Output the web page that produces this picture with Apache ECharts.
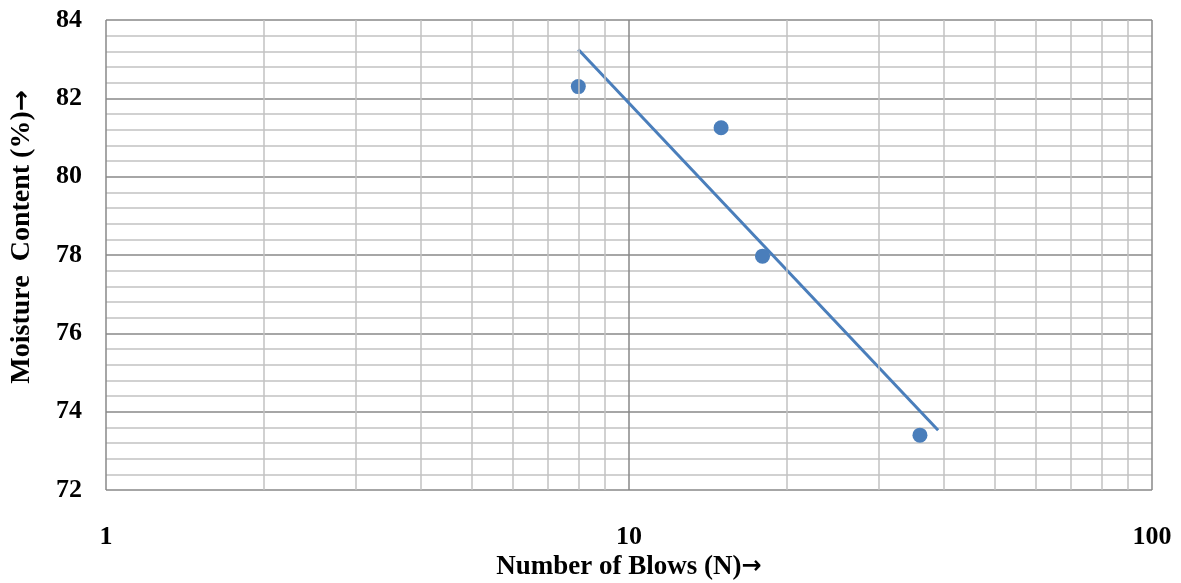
<!DOCTYPE html>
<html><head><meta charset="utf-8">
<script src="https://cdn.jsdelivr.net/npm/echarts@6/dist/echarts.min.js"></script>
<style>html,body{margin:0;padding:0;background:#fff}#c{width:1181px;height:583px}</style>
</head><body><div id="c"></div>
<script>
const blows = [8, 15, 18, 36];
const moisture = [82.3, 81.25, 77.97, 73.4];
const trendRange = [8, 39];
const xMinorLines = [2,3,4,5,6,7,8,9,20,30,40,50,60,70,80,90];
const yTicks = [72, 74, 76, 78, 80, 82, 84];
const xTitle = 'Number of Blows (N){a|\u2192}';
const yTitle = 'Moisture  Content (%){a|\u2192}';

// logarithmic trend line (least squares of y on log10 x)
const lx = blows.map(v => Math.log10(v));
const n = lx.length;
const mx = lx.reduce((a,b)=>a+b,0)/n, my = moisture.reduce((a,b)=>a+b,0)/n;
let sxy=0, sxx=0;
for (let i=0;i<n;i++){ sxy += (lx[i]-mx)*(moisture[i]-my); sxx += (lx[i]-mx)**2; }
const slope = sxy/sxx, icpt = my - slope*mx;
const trend = trendRange.map(x => [x, icpt + slope*Math.log10(x)]);

const font = '"Liberation Serif", "Times New Roman", serif';
const arrowRich = (s) => ({a: {fontFamily: '"DejaVu Sans"', fontWeight: 'bold', fontSize: s, fill: '#000', color: '#000'}});
const titleStyle = (t, s, as) => ({text: t, fontFamily: font, fontWeight: 'bold', fontSize: s, fill: '#000',
  align: 'center', verticalAlign: 'middle', rich: arrowRich(as)});
const chart = echarts.init(document.getElementById('c'));
chart.setOption({
  animation: false,
  grid: {left: 106, right: 29, top: 20, bottom: 93, containLabel: false, outerBoundsMode: 'none'},
  graphic: [
    {type: 'text', x: 629, y: 567, style: titleStyle(xTitle, 27, 24), silent: true},
    {type: 'text', x: 22, y: 237, rotation: Math.PI/2, style: titleStyle(yTitle, 28, 25), silent: true}
  ],
  xAxis: {
    type: 'log', logBase: 10, min: 1, max: 100,
    axisLine: {show: false}, axisTick: {show: false},
    axisLabel: {fontFamily: font, fontWeight: 'bold', fontSize: 26, color: '#000', margin: 34},
    splitLine: {show: true, lineStyle: {color: '#888888', width: 1.5}}
  },
  yAxis: {
    type: 'value', min: yTicks[0], max: yTicks[yTicks.length-1], interval: 2,
    axisLine: {show: false}, axisTick: {show: false},
    axisLabel: {fontFamily: font, fontWeight: 'bold', fontSize: 26, color: '#000', margin: 24},
    splitLine: {show: true, lineStyle: {color: '#888888', width: 1.5}},
    minorTick: {show: false, splitNumber: 5},
    minorSplitLine: {show: true, lineStyle: {color: '#c2c2c2', width: 1.5}}
  },
  series: [
    {
      type: 'line', data: [], silent: true,
      markLine: {
        symbol: 'none', silent: true, label: {show: false},
        lineStyle: {color: '#c2c2c2', width: 1.5, type: 'solid'},
        data: xMinorLines.map(v => ({xAxis: v}))
      }
    },
    {
      type: 'line', data: trend, showSymbol: false, symbol: 'none',
      lineStyle: {color: '#4a7ebb', width: 3}, z: 3
    },
    {
      type: 'scatter', data: blows.map((b,i)=>[b, moisture[i]]),
      symbolSize: 15, itemStyle: {color: '#4a7ebb', opacity: 1}, z: 4
    }
  ]
});
</script></body></html>
